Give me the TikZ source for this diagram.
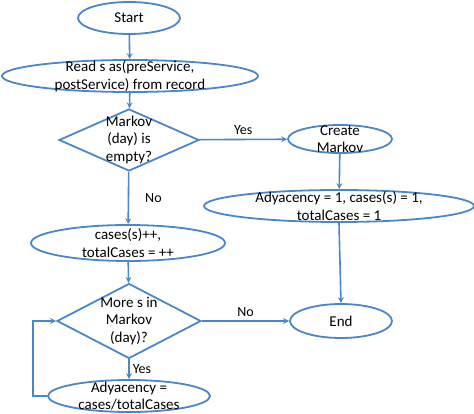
\documentclass[tikz,border=0pt]{standalone}
\usepackage{fontspec}
\setmainfont{Carlito}
\usetikzlibrary{shapes.geometric}
\definecolor{lineblue}{RGB}{74,134,200}

\begin{document}
\begin{tikzpicture}
 [
  x=1pt, y=-1pt,
  >=stealth,
  every label/.style = {align=center, font=\fontsize{15}{17.5}\selectfont, inner sep=0pt},
  term/.style  = {draw=lineblue, ellipse, line width=1.8pt, inner sep=0pt},
  cond/.style  = {draw=lineblue, diamond, line width=1.8pt, inner sep=0pt},
  flow/.style  = {draw=lineblue, line width=1.6pt, ->},
  tag/.style   = {font=\fontsize{14}{16}\selectfont, inner sep=1pt},
 ]
 \useasboundingbox (0,0) rectangle (474,414);

 % left column
 \node (start) at (129,18) [term, minimum width=102, minimum height=32,
   label = {center:Start}]{};
 \node (read) at (130,76) [term, minimum width=256, minimum height=32,
   label = {center:Read s as(preService,\\postService) from record}]{};
 \node (isempty) at (129,140) [cond, minimum width=140, minimum height=62,
   label = {center:Markov\\(day) is\\empty?}]{};
 \node (cases) at (128,243) [term, minimum width=194, minimum height=36,
   label = {center:cases(s)++,\\totalCases = ++}]{};
 \node (more) at (129,321) [cond, minimum width=144, minimum height=75,
   label = {center:More s in\\Markov\\(day)?}]{};
 \node (adjnorm) at (129,396) [term, minimum width=162, minimum height=32,
   label = {center:Adyacency =\\cases/totalCases}]{};

 % right column
 \node (create) at (340,139) [term, minimum width=104, minimum height=28,
   label = {center:Create\\Markov}]{};
 \node (adjinit) at (339,206) [term, minimum width=270, minimum height=32,
   label = {center:Adyacency = 1, cases(s) = 1,\\totalCases = 1}]{};
 \node (end) at (341,321) [term, minimum width=102, minimum height=34,
   label = {center:End}]{};

 \draw[flow] (start) -- (read);
 \draw[flow] (read) -- (isempty);
 \draw[flow] (isempty) -- node[tag, midway, above=3pt]{Yes} (create);
 \draw[flow] (isempty) -- node[tag, midway, right=15pt]{No} (cases);
 \draw[flow] (create) -- (adjinit);
 \draw[flow] (adjinit.south) -- (end.north);
 \draw[flow] (cases) -- (more);
 \draw[flow] (more) -- node[tag, midway, above=3pt]{No} (end);
 \draw[flow] (more) -- node[tag, midway, right=2pt]{Yes} (adjnorm);
 \draw[flow] (adjnorm.west) -- ++(-14,0) |- (more.west);
\end{tikzpicture}
\end{document}
